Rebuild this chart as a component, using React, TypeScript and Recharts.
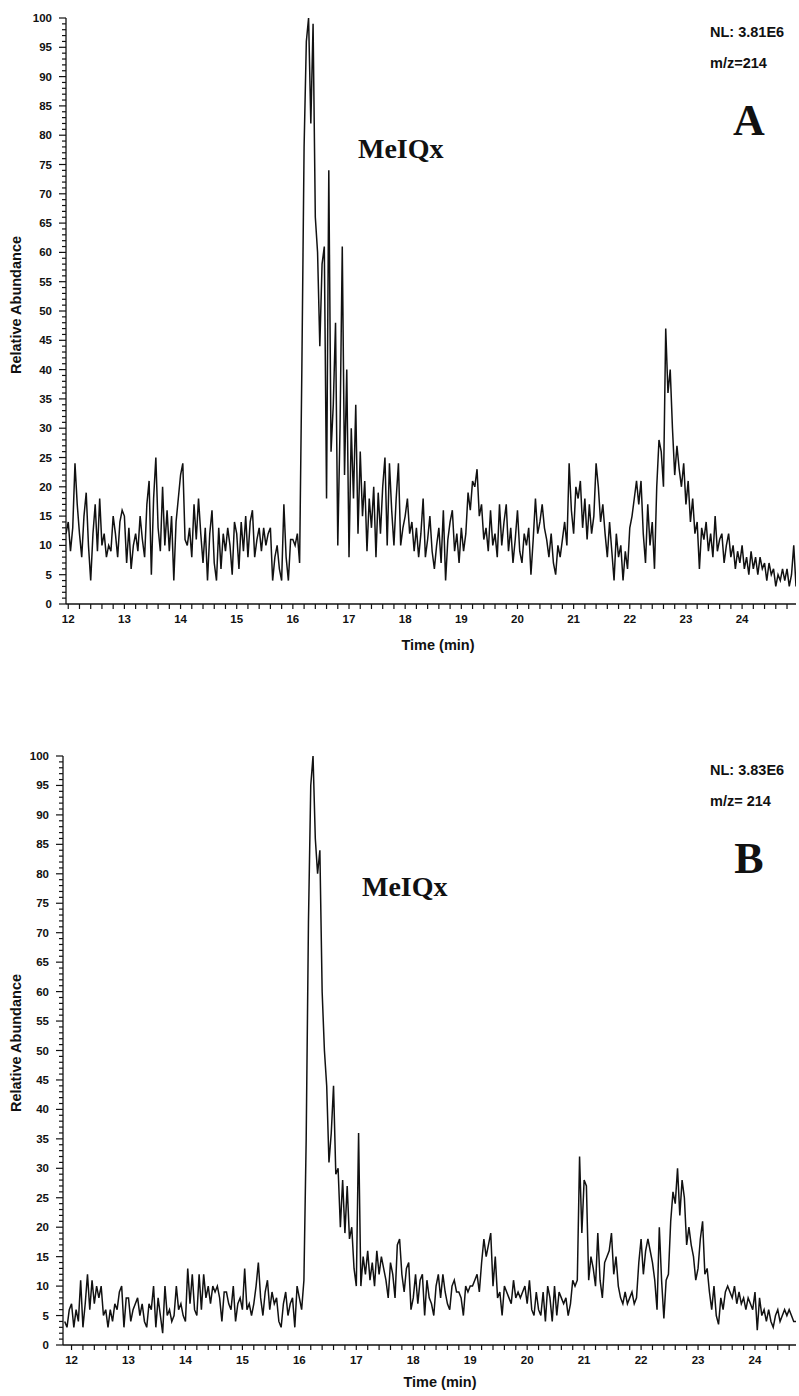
import { LineChart, Line, XAxis, YAxis } from 'recharts'

const FONT = '"Liberation Sans", Arial, sans-serif'
const SERIF = '"Liberation Serif", "Times New Roman", serif'
const INK = '#111'

// sampling interval of both traces, in minutes
const STEP = 0.04

// trace A (NL 3.81E6), starts at 11.96 min, one row per minute
const startA = 11.96
const headA = [12]
const rowA12 = [14, 9, 13, 24, 17, 12, 8, 15, 19, 10, 4, 12, 17, 9, 18, 10, 12, 8, 10, 9, 15, 12, 8, 14, 16]
const rowA13 = [15, 7, 13, 6, 10, 12, 9, 15, 11, 8, 17, 21, 5, 18, 25, 13, 9, 20, 10, 16, 9, 15, 4, 14, 18]
const rowA14 = [22, 24, 11, 10, 13, 8, 17, 11, 18, 12, 7, 13, 4, 12, 16, 7, 4, 13, 6, 12, 9, 13, 10, 5, 14]
const rowA15 = [12, 6, 14, 9, 15, 8, 14, 16, 8, 11, 13, 9, 13, 10, 12, 13, 4, 8, 10, 6, 4, 17, 8, 4, 11]
const rowA16 = [11, 10, 12, 7, 40, 78, 96, 100, 82, 99, 66, 60, 44, 58, 61, 18, 74, 26, 34, 48, 10, 30, 61, 22, 40]
const rowA17 = [8, 30, 18, 34, 12, 26, 15, 21, 9, 18, 13, 20, 8, 19, 12, 20, 25, 10, 24, 16, 10, 18, 24, 10, 13]
const rowA18 = [15, 18, 12, 14, 9, 13, 8, 12, 18, 8, 11, 15, 9, 6, 10, 13, 7, 16, 4, 11, 14, 16, 9, 12, 7]
const rowA19 = [13, 9, 12, 19, 16, 21, 20, 23, 15, 17, 11, 13, 9, 16, 10, 12, 8, 17, 10, 14, 17, 9, 13, 7, 11]
const rowA20 = [16, 9, 7, 12, 10, 13, 5, 11, 18, 12, 14, 17, 13, 11, 8, 12, 7, 5, 10, 8, 11, 14, 10, 24, 16]
const rowA21 = [12, 20, 18, 21, 13, 18, 11, 17, 12, 15, 24, 20, 14, 17, 12, 8, 14, 9, 4, 12, 8, 10, 4, 9, 6]
const rowA22 = [13, 15, 18, 21, 17, 21, 12, 7, 17, 10, 14, 6, 20, 28, 26, 20, 47, 36, 40, 30, 22, 27, 23, 20, 24]
const rowA23 = [17, 21, 14, 18, 12, 14, 6, 13, 11, 14, 9, 12, 8, 15, 9, 11, 12, 7, 10, 12, 8, 10, 6, 9, 7]
const rowA24 = [10, 6, 8, 5, 9, 6, 8, 5, 8, 6, 7, 4, 7, 5, 6, 3, 5, 4, 6, 4, 6, 3, 5, 10, 3]

// trace B (NL 3.83E6), starts at 11.88 min
const startB = 11.88
const headB = [4, 3, 6]
const rowB12 = [7, 3, 6, 4, 11, 3, 7, 12, 6, 11, 7, 10, 8, 10, 5, 6, 3, 6, 4, 7, 6, 9, 10, 3, 8]
const rowB13 = [8, 4, 6, 7, 8, 5, 7, 4, 3, 7, 6, 10, 3, 8, 5, 2, 10, 5, 6, 4, 5, 10, 6, 7, 5]
const rowB14 = [4, 13, 7, 12, 6, 5, 12, 6, 12, 8, 10, 7, 10, 9, 10, 8, 4, 9, 9, 7, 6, 10, 4, 7, 8]
const rowB15 = [6, 13, 6, 7, 5, 7, 10, 14, 8, 5, 9, 11, 6, 9, 7, 8, 4, 3, 7, 9, 5, 7, 8, 3, 10]
const rowB16 = [8, 6, 11, 35, 72, 95, 100, 86, 80, 84, 60, 50, 44, 31, 36, 44, 29, 30, 20, 28, 19, 27, 18, 20, 13]
const rowB17 = [10, 36, 10, 15, 12, 16, 11, 14, 10, 16, 12, 15, 13, 11, 8, 14, 12, 8, 17, 18, 12, 9, 13, 14, 6]
const rowB18 = [8, 12, 7, 11, 12, 5, 11, 8, 7, 5, 10, 12, 8, 12, 9, 7, 6, 10, 11, 9, 9, 8, 5, 10, 9]
const rowB19 = [10, 10, 11, 12, 9, 14, 18, 15, 17, 19, 10, 15, 8, 9, 5, 10, 9, 8, 7, 11, 8, 9, 8, 9, 10]
const rowB20 = [7, 11, 6, 5, 9, 6, 5, 9, 4, 10, 8, 4, 10, 5, 9, 8, 7, 8, 5, 7, 11, 10, 11, 32, 19]
const rowB21 = [28, 27, 11, 15, 13, 10, 19, 11, 8, 14, 15, 16, 19, 12, 15, 10, 8, 7, 9, 7, 8, 9, 7, 8, 14]
const rowB22 = [18, 12, 16, 18, 16, 14, 11, 6, 20, 11, 4.5, 11, 12, 21, 26, 24, 30, 22, 28, 25, 17, 20, 17, 15, 11]
const rowB23 = [13, 18, 21, 12, 13, 9, 6, 10, 5, 3.5, 8, 6, 9, 10, 9, 8, 10, 7, 9, 7, 8, 6, 8, 7, 6]
const rowB24 = [9, 2.5, 8, 5, 6, 4, 6, 4, 3, 5, 6, 4, 5, 6, 5, 6, 5, 4, 4]

const timeLabels = [12, 13, 14, 15, 16, 17, 18, 19, 20, 21, 22, 23, 24]
const abundanceLabels = [0, 5, 10, 15, 20, 25, 30, 35, 40, 45, 50, 55, 60, 65, 70, 75, 80, 85, 90, 95, 100]

const valuesA = [...headA, ...rowA12, ...rowA13, ...rowA14, ...rowA15, ...rowA16, ...rowA17, ...rowA18,
  ...rowA19, ...rowA20, ...rowA21, ...rowA22, ...rowA23, ...rowA24]
const valuesB = [...headB, ...rowB12, ...rowB13, ...rowB14, ...rowB15, ...rowB16, ...rowB17, ...rowB18,
  ...rowB19, ...rowB20, ...rowB21, ...rowB22, ...rowB23, ...rowB24]

const toSeries = (start: number, values: number[]) =>
  values.map((v, i) => ({ t: Math.round((start + i * STEP) * 100) / 100, v }))

const dataA = toSeries(startA, valuesA)
const dataB = toSeries(startB, valuesB)

// minor ticks: every 0.2 min, every 1 % abundance
const minorTimes = (lastTenths: number) => {
  const out: number[] = []
  for (let k = 120; k <= lastTenths; k += 2) out.push(k / 10)
  return out
}
const yTicks = Array.from({ length: 101 }, (_, i) => i)

function YTick(props: any) {
  const { x, y, payload } = props
  const major = abundanceLabels.includes(payload.value)
  return (
    <g>
      <line x1={x} x2={x - (major ? 7 : 4)} y1={y} y2={y} stroke={INK} strokeWidth={1.2} />
      {major && (
        <text x={x - 14} y={y + 4} textAnchor="end" fontFamily={FONT} fontSize={11.5} fontWeight="bold" fill={INK}>
          {payload.value}
        </text>
      )}
    </g>
  )
}

function XTick(props: any) {
  const { x, y, payload } = props
  const label = timeLabels.find((t) => Math.abs(t - payload.value) < 1e-6)
  return (
    <g>
      <line x1={x} x2={x} y1={y} y2={y + 5} stroke={INK} strokeWidth={1.2} />
      {label !== undefined && (
        <text x={x} y={y + 19} textAnchor="middle" fontFamily={FONT} fontSize={11.5} fontWeight="bold" fill={INK}>
          {label}
        </text>
      )}
    </g>
  )
}

interface TraceProps {
  data: { t: number; v: number }[]
  domain: [number, number]
  xTicks: number[]
  yAxisWidth: number
  marginTop: number
  xAxisHeight: number
}

function Trace({ data, domain, xTicks, yAxisWidth, marginTop, xAxisHeight }: TraceProps) {
  return (
    <LineChart width={799} height={660} data={data} margin={{ top: marginTop, right: 3, bottom: 0, left: 0 }}>
      <XAxis
        dataKey="t"
        type="number"
        domain={domain}
        ticks={xTicks}
        interval={0}
        allowDataOverflow
        height={xAxisHeight}
        tickSize={0}
        tickMargin={0}
        tickLine={false}
        tick={<XTick />}
        axisLine={{ stroke: INK, strokeWidth: 1.3 }}
      />
      <YAxis
        type="number"
        domain={[0, 100]}
        ticks={yTicks}
        interval={0}
        allowDataOverflow
        width={yAxisWidth}
        tickSize={0}
        tickMargin={0}
        tickLine={false}
        tick={<YTick />}
        axisLine={{ stroke: INK, strokeWidth: 1.3 }}
      />
      <Line dataKey="v" type="linear" stroke={INK} strokeWidth={1.5} dot={false} isAnimationActive={false} />
    </LineChart>
  )
}

function Notes({ top, nl, mz, letter }: { top: number; nl: string; mz: string; letter: string }) {
  return (
    <g>
      <text x={710} y={top + 37} fontFamily={FONT} fontSize={14.5} fontWeight="bold" fill={INK}>{nl}</text>
      <text x={710} y={top + 68} fontFamily={FONT} fontSize={14.5} fontWeight="bold" fill={INK}>{mz}</text>
      <text x={749} y={top + 135} textAnchor="middle" fontFamily={SERIF} fontSize={44} fontWeight="bold" fill={INK}>{letter}</text>
      <text x={top === 0 ? 358 : 362} y={top + 158} fontFamily={SERIF} fontSize={28} fontWeight="bold" fill={INK}>MeIQx</text>
      <text transform={`translate(21,${top + 305}) rotate(-90)`} textAnchor="middle" fontFamily={FONT} fontSize={14.5} fontWeight="bold" fill={INK}>
        Relative Abundance
      </text>
    </g>
  )
}

export default function App() {
  return (
    <div style={{ position: 'absolute', left: 0, top: 0, width: 799, height: 1396, background: '#fff', overflow: 'hidden' }}>
      <div style={{ position: 'absolute', left: 0, top: 0 }}>
        <Trace data={dataA} domain={[11.96, 24.96]} xTicks={minorTimes(248)} yAxisWidth={66} marginTop={18} xAxisHeight={56} />
      </div>
      <div style={{ position: 'absolute', left: 0, top: 736 }}>
        <Trace data={dataB} domain={[11.85, 24.72]} xTicks={minorTimes(246)} yAxisWidth={63} marginTop={20} xAxisHeight={51} />
      </div>
      <svg width={799} height={1396} style={{ position: 'absolute', left: 0, top: 0, pointerEvents: 'none' }}>
        <Notes top={0} nl="NL: 3.81E6" mz="m/z=214" letter="A" />
        <Notes top={738} nl="NL: 3.83E6" mz="m/z= 214" letter="B" />
        <text x={438} y={650} textAnchor="middle" fontFamily={FONT} fontSize={14.5} fontWeight="bold" fill={INK}>Time (min)</text>
        <text x={440} y={1387} textAnchor="middle" fontFamily={FONT} fontSize={14.5} fontWeight="bold" fill={INK}>Time (min)</text>
      </svg>
    </div>
  )
}
